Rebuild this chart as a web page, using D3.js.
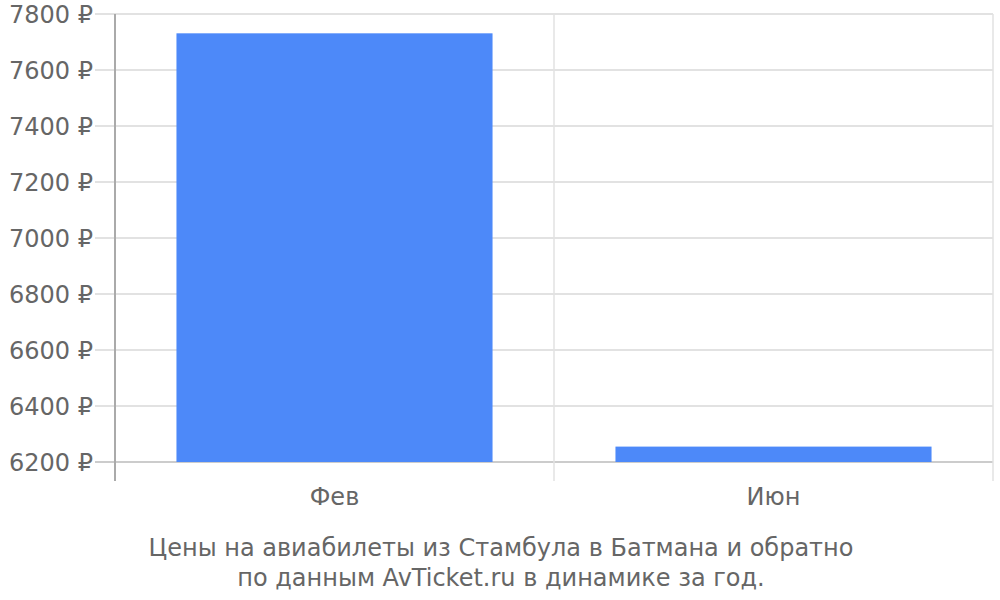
<!DOCTYPE html>
<html>
<head>
<meta charset="utf-8">
<script src="https://cdnjs.cloudflare.com/ajax/libs/d3/7.8.5/d3.min.js"></script>
<style>
  body { margin: 0; background: #fff; }
  svg text { font-family: "DejaVu Sans", sans-serif; fill: #666; }
</style>
</head>
<body>
<svg id="chart" width="1000" height="600"></svg>
<script>
// data
const months = ['Фев', 'Июн'];
const prices = [7731, 6255];
const yTicks = [6200, 6400, 6600, 6800, 7000, 7200, 7400, 7600, 7800];
const titleLines = [
    'Цены на авиабилеты из Стамбула в Батмана и обратно',
    'по данным AvTicket.ru в динамике за год.'
];

const svg = d3.select('#chart');
const plotLeft = 115, plotRight = 993, plotTop = 14, plotBottom = 462;

const x = d3.scaleBand()
    .domain(months)
    .range([plotLeft, plotRight]);

const y = d3.scaleLinear()
    .domain([6200, 7800])
    .range([plotBottom, plotTop]);

// horizontal grid
svg.append('g')
    .selectAll('line')
    .data(yTicks)
    .join('line')
    .attr('x1', plotLeft - 20)
    .attr('x2', plotRight)
    .attr('y1', d => y(d))
    .attr('y2', d => y(d))
    .attr('stroke', d => d == 6200 ? '#ccc' : '#e2e2e2')
    .attr('stroke-width', 2);

// vertical grid at band edges
let edges = months.map(m => x(m)).concat([plotRight]);
svg.append('g')
    .selectAll('line')
    .data(edges.slice(1))
    .join('line')
    .attr('x1', d => d)
    .attr('x2', d => d)
    .attr('y1', plotTop)
    .attr('y2', 481)
    .attr('stroke', '#e2e2e2')
    .attr('stroke-width', 1.5);

// left axis line
svg.append('line')
    .attr('x1', plotLeft).attr('x2', plotLeft)
    .attr('y1', plotTop).attr('y2', 481)
    .attr('stroke', '#aaa')
    .attr('stroke-width', 2);

// bars
let barW = x.bandwidth() * 0.72;
svg.append('g')
    .selectAll('rect')
    .data(months)
    .join('rect')
    .attr('x', (d) => x(d) + (x.bandwidth() - barW) / 2)
    .attr('y', (d, i) => y(prices[i]))
    .attr('width', barW)
    .attr('height', (d, i) => y(6200) - y(prices[i]))
    .attr('fill', '#4d89f9');

// y labels
svg.append('g')
    .selectAll('text')
    .data(yTicks)
    .join('text')
    .attr('x', 93)
    .attr('y', d => y(d) + 9)
    .attr('text-anchor', 'end')
    .attr('font-size', 24)
    .text(d => d + ' ₽');

// x labels
svg.append('g')
    .selectAll('text')
    .data(months)
    .join('text')
    .attr('x', d => x(d) + x.bandwidth() / 2)
    .attr('y', 505)
    .attr('text-anchor', 'middle')
    .attr('font-size', 24)
    .text(d => d);

// caption
svg.append('g')
    .selectAll('text')
    .data(titleLines)
    .join('text')
    .attr('x', 501)
    .attr('y', (d, i) => 556 + i * 30)
    .attr('text-anchor', 'middle')
    .attr('font-size', 24)
    .text(d => d);
</script>
</body>
</html>
